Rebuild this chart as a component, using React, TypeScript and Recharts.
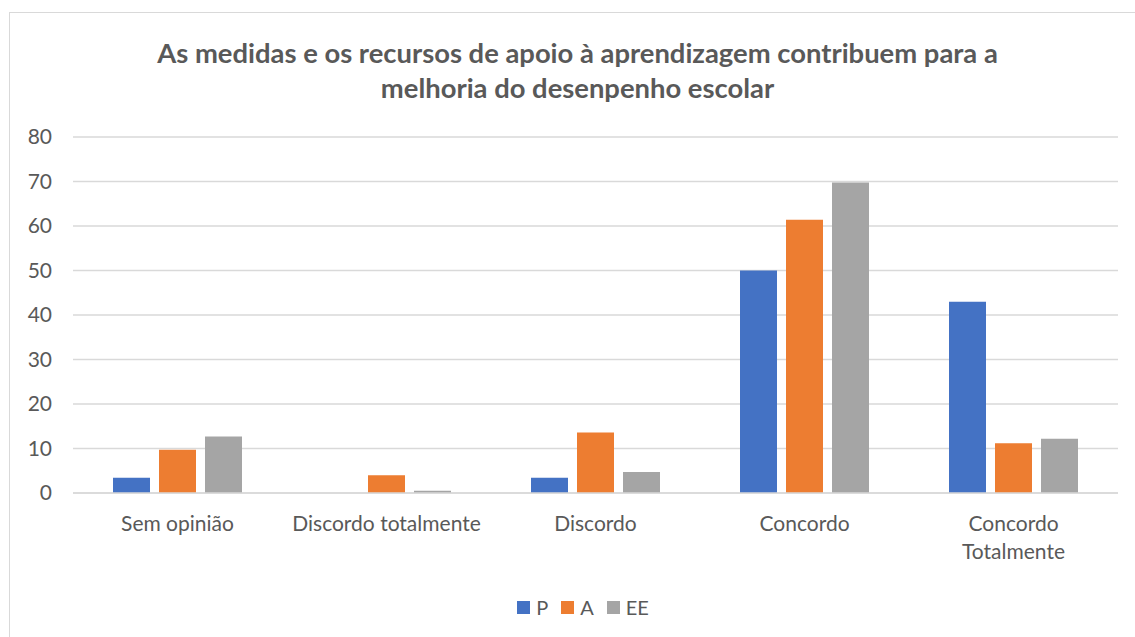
import { BarChart, Bar, XAxis, YAxis, CartesianGrid } from 'recharts'

const categories = ['Sem opinião', 'Discordo totalmente', 'Discordo', 'Concordo', 'Concordo Totalmente']
const seriesP = [3.4, 0, 3.4, 50, 43]
const seriesA = [9.7, 4, 13.6, 61.4, 11.2]
const seriesEE = [12.7, 0.5, 4.7, 69.8, 12.2]
const yTicks = [0, 10, 20, 30, 40, 50, 60, 70, 80]

const titleLines = [
  'As medidas e os recursos de apoio à aprendizagem contribuem para a',
  'melhoria do desenpenho escolar',
]

const series = [
  { key: 'P', color: '#4472C4' },
  { key: 'A', color: '#ED7D31' },
  { key: 'EE', color: '#A5A5A5' },
]

const data = categories.map((name, i) => ({
  name,
  P: seriesP[i],
  A: seriesA[i],
  EE: seriesEE[i],
}))

const FONT = 'Lato, "Open Sans", sans-serif'
const TEXT = '#595959'

// category labels wrap like Excel does ("Concordo Totalmente" goes on two lines)
function CategoryTick(props: any) {
  const { x, y, payload } = props
  const label: string = payload.value
  const lines = label === 'Concordo Totalmente' ? ['Concordo', 'Totalmente'] : [label]
  return (
    <text x={x} y={y} textAnchor="middle" fill={TEXT} fontSize={21} fontFamily={FONT}>
      {lines.map((l, i) => (
        <tspan key={i} x={x} dy={i === 0 ? 30 : 28}>
          {l}
        </tspan>
      ))}
    </text>
  )
}

export default function App() {
  return (
    <div style={{ position: 'absolute', left: 0, top: 0, width: 1135, height: 637, overflow: 'hidden', background: '#fff' }}>
      <div
        style={{
          position: 'absolute',
          left: 9,
          top: 12,
          width: 1160,
          height: 660,
          border: '1.5px solid #d9d9d9',
        }}
      />
      <div
        style={{
          position: 'absolute',
          left: 0,
          top: 35,
          width: 1155,
          textAlign: 'center',
          fontFamily: FONT,
          fontWeight: 700,
          fontSize: 27.4,
          lineHeight: '35px',
          color: TEXT,
        }}
      >
        {titleLines.map((l, i) => (
          <div key={i}>{l}</div>
        ))}
      </div>
      <div style={{ position: 'absolute', left: 0, top: 0 }}>
        <BarChart
          width={1135}
          height={637}
          data={data}
          margin={{ top: 137, right: 17, bottom: 0, left: 0 }}
          barCategoryGap={40}
          barGap={9}
        >
          <CartesianGrid vertical={false} stroke="#d9d9d9" strokeWidth={1.5} />
          <XAxis
            dataKey="name"
            tick={<CategoryTick />}
            tickLine={false}
            axisLine={{ stroke: '#d9d9d9', strokeWidth: 1.5 }}
            interval={0}
            height={144}
          />
          <YAxis
            domain={[0, 80]}
            ticks={yTicks}
            interval={0}
            width={73}
            tickLine={false}
            axisLine={false}
            tickSize={0}
            tickMargin={21}
            tick={{ fill: TEXT, fontSize: 21, fontFamily: FONT }}
          />
          {series.map(s => (
            <Bar key={s.key} dataKey={s.key} fill={s.color} isAnimationActive={false} />
          ))}
        </BarChart>
      </div>
      <div
        style={{
          position: 'absolute',
          left: 0,
          top: 594,
          width: 1166,
          display: 'flex',
          justifyContent: 'center',
          gap: 13,
          fontFamily: FONT,
        }}
      >
        {series.map(s => (
          <div key={s.key} style={{ display: 'flex', alignItems: 'center', gap: 6 }}>
            <span style={{ display: 'inline-block', width: 13, height: 13, background: s.color }} />
            <span style={{ fontSize: 20, color: TEXT, lineHeight: '26px' }}>{s.key}</span>
          </div>
        ))}
      </div>
    </div>
  )
}
